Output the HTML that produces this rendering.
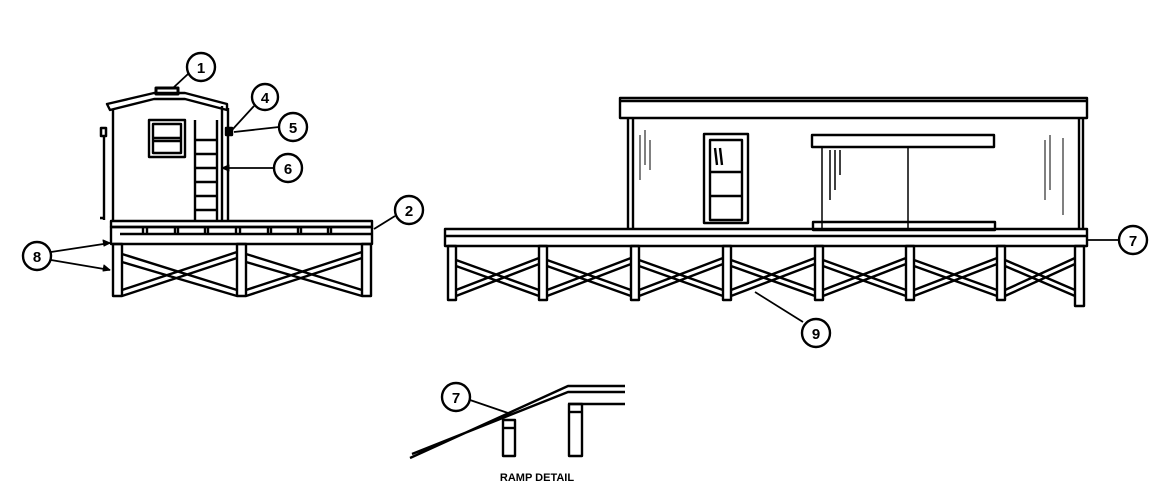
<!DOCTYPE html>
<html><head><style>
html,body{margin:0;padding:0;background:#fff;}
svg{display:block;}
text{font-family:"Liberation Sans",sans-serif;fill:#000;font-weight:bold;}
</style></head><body>
<svg width="1158" height="502" viewBox="0 0 1158 502" xmlns="http://www.w3.org/2000/svg">
<g fill="none" stroke="#000" stroke-width="2.4" stroke-linejoin="round">
<!-- LEFT BUILDING -->
<path d="M107,104 L154,93 L185,93 L227,104 L227,110 L185,99 L154,99 L110,110 Z" fill="#fff"/>
<rect x="156" y="88" width="22" height="6" stroke-width="3"/>
<path d="M113,110 L113,222 M228,108 L228,222 M222,106 L222,222"/>
<rect x="101" y="128" width="5" height="8" stroke-width="2.5"/>
<path d="M104,136 L104,220 M100,218 L104,218"/>
<rect x="149" y="120" width="36" height="37"/>
<rect x="153" y="124" width="28" height="29"/>
<path d="M153,138 L181,138 M153,141 L181,141"/>
<path d="M195,120 L195,222 M217,120 L217,222 M195,140 L217,140 M195,154 L217,154 M195,168 L217,168 M195,182 L217,182 M195,196 L217,196 M195,210 L217,210"/>
<rect x="226" y="128" width="6" height="7" fill="#000"/>
<rect x="111" y="221" width="261" height="6"/>
<rect x="111" y="227" width="261" height="17"/>
<path d="M143,227 L143,234 M147,227 L147,234 M175,227 L175,234 M178,227 L178,234 M205,227 L205,234 M208,227 L208,234 M236,227 L236,234 M240,227 L240,234 M268,227 L268,234 M271,227 L271,234 M298,227 L298,234 M301,227 L301,234 M328,227 L328,234 M331,227 L331,234 M120,234 L372,234"/>
<rect x="113" y="244" width="9" height="52"/>
<rect x="237" y="244" width="9" height="52"/>
<rect x="362" y="244" width="9" height="52"/>
<path d="M122,254 L237,290 M122,262 L237,296 M122,290 L237,252 M122,296 L237,258 M246,254 L362,290 M246,262 L362,296 M246,290 L362,252 M246,296 L362,258"/>
<!-- RIGHT BUILDING -->
<rect x="620" y="98" width="467" height="20"/>
<path d="M620,101 L1087,101"/>
<path d="M628,118 L628,228 M633,118 L633,228 M1079,118 L1079,230 M1083,118 L1083,230"/>
<path d="M640,135 L640,180 M645,130 L645,165 M650,140 L650,170 M1045,140 L1045,200 M1050,135 L1050,190 M1063,138 L1063,215" stroke-width="1"/>
<rect x="704" y="134" width="44" height="89"/>
<rect x="710" y="140" width="32" height="80"/>
<path d="M710,172 L742,172 M710,196 L742,196 M715,148 L717,165 M720,148 L722,165"/>
<rect x="812" y="135" width="182" height="12"/>
<path d="M822,147 L822,228 M908,147 L908,228 M830,150 L830,200 M835,150 L835,190 M840,150 L840,175" stroke-width="1.5"/>
<rect x="813" y="222" width="182" height="8"/>
<rect x="445" y="229" width="642" height="17"/>
<path d="M445,236 L1087,236"/>
<g>
<rect x="448" y="246" width="8" height="54"/>
<rect x="539" y="246" width="8" height="54"/>
<rect x="631" y="246" width="8" height="54"/>
<rect x="723" y="246" width="8" height="54"/>
<rect x="815" y="246" width="8" height="54"/>
<rect x="906" y="246" width="8" height="54"/>
<rect x="997" y="246" width="8" height="54"/>
<rect x="1075" y="246" width="9" height="60"/>
</g>
<path d="M456,260 L539,290 M456,266 L539,296 M456,290 L539,258 M456,296 L539,264
M547,260 L631,290 M547,266 L631,296 M547,290 L631,258 M547,296 L631,264
M639,260 L723,290 M639,266 L723,296 M639,290 L723,258 M639,296 L723,264
M731,260 L815,290 M731,266 L815,296 M731,290 L815,258 M731,296 L815,264
M823,260 L906,290 M823,266 L906,296 M823,290 L906,258 M823,296 L906,264
M914,260 L997,290 M914,266 L997,296 M914,290 L997,258 M914,296 L997,264
M1005,260 L1075,290 M1005,266 L1075,296 M1005,290 L1075,258 M1005,296 L1075,264"/>
<!-- RAMP DETAIL -->
<path d="M410,458 L568,386 L625,386 M412,454 L568,392 L625,392 M568,404 L625,404"/>
<rect x="503" y="420" width="12" height="36"/>
<path d="M503,428 L515,428"/>
<rect x="569" y="404" width="13" height="52"/>
<path d="M569,412 L582,412"/>
<!-- leader lines -->
<path d="M188,74 L173,88 M254,106 L232,130 M279,127 L234,132 M274,168 L222,168 M395,216 L374,229 M51,252 L110,243 M51,260 L110,270 M1087,240 L1120,240 M803,322 L755,292 M470,400 L508,413" stroke-width="1.8"/>
<path d="M110,243 L103,240 L104,246 Z M110,270 L104,265 L103,271 Z M222,168 L229,165 L229,171 Z" fill="#000" stroke-width="1"/>
<!-- circles -->
<circle cx="201" cy="67" r="14"/>
<circle cx="265" cy="97" r="13"/>
<circle cx="293" cy="127" r="14"/>
<circle cx="288" cy="168" r="14"/>
<circle cx="409" cy="210" r="14"/>
<circle cx="37" cy="256" r="14"/>
<circle cx="1133" cy="240" r="14"/>
<circle cx="816" cy="333" r="14"/>
<circle cx="456" cy="397" r="14"/>
</g>
<g font-size="15" text-anchor="middle">
<text x="201" y="73">1</text>
<text x="265" y="103">4</text>
<text x="293" y="133">5</text>
<text x="288" y="174">6</text>
<text x="409" y="216">2</text>
<text x="37" y="262">8</text>
<text x="1133" y="246">7</text>
<text x="816" y="339">9</text>
<text x="456" y="403">7</text>
<text x="537" y="481" font-size="11">RAMP DETAIL</text>
</g>
</svg>
</body></html>
